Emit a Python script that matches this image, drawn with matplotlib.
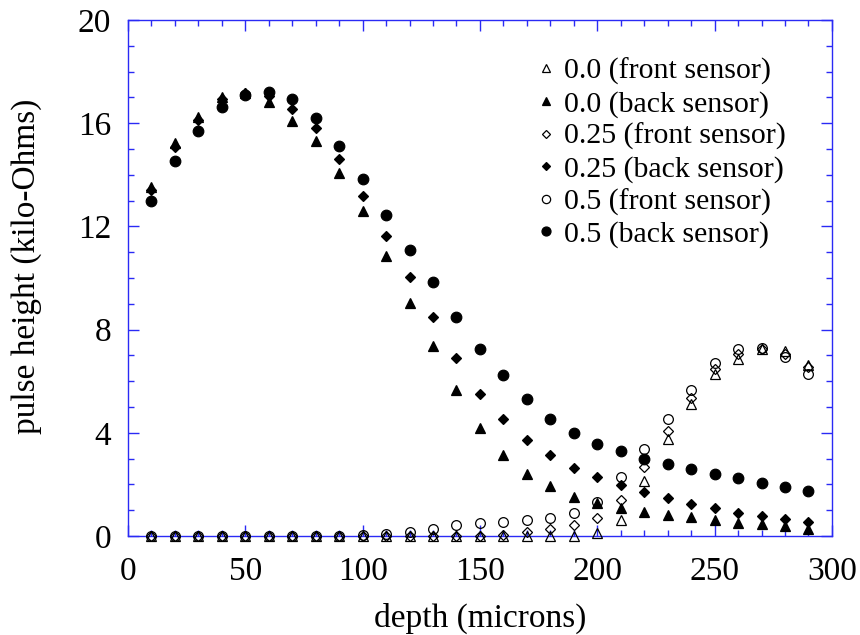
import matplotlib
matplotlib.use("Agg")
import matplotlib.pyplot as plt
from matplotlib.ticker import MultipleLocator

plt.rcParams['font.family'] = ['Liberation Serif', 'DejaVu Serif']

# depth in microns
depth = [10, 20, 30, 40, 50, 60, 70, 80, 90, 100,
         110, 120, 130, 140, 150, 160, 170, 180, 190, 200,
         210, 220, 230, 240, 250, 260, 270, 280, 290]

# pulse height (kilo-Ohms)
front_00 = [0, 0, 0, 0, 0, 0, 0, 0, 0, 0,
            0, 0, 0, 0, 0, 0, 0, 0, 0, 0.1,
            0.62, 2.15, 3.75, 5.13, 6.27, 6.87, 7.23, 7.16, 6.61]
back_00 = [13.54, 15.22, 16.25, 17.03, 17.18, 16.81, 16.10, 15.32, 14.06, 12.61,
           10.85, 9.05, 7.37, 5.65, 4.17, 3.14, 2.41, 1.92, 1.53, 1.27,
           1.08, 0.92, 0.82, 0.72, 0.63, 0.52, 0.46, 0.37, 0.27]
front_025 = [0, 0, 0, 0, 0, 0, 0, 0, 0, 0,
             0, 0, 0, 0, 0, 0.04, 0.14, 0.27, 0.43, 0.69,
             1.39, 2.68, 4.07, 5.35, 6.48, 7.04, 7.25, 7.06, 6.55]
back_025 = [13.41, 15.06, 16.12, 16.93, 17.16, 17.05, 16.54, 15.80, 14.60, 13.19,
            11.64, 10.02, 8.48, 6.91, 5.52, 4.52, 3.71, 3.14, 2.65, 2.29,
            1.97, 1.71, 1.46, 1.24, 1.07, 0.91, 0.78, 0.67, 0.54]
front_05 = [0, 0, 0, 0, 0, 0, 0, 0, 0, 0.03,
            0.08, 0.15, 0.27, 0.43, 0.52, 0.54, 0.62, 0.68, 0.88, 1.30,
            2.27, 3.39, 4.55, 5.65, 6.72, 7.25, 7.27, 6.94, 6.27]
back_05 = [12.98, 14.53, 15.70, 16.64, 17.09, 17.22, 16.93, 16.21, 15.12, 13.85,
           12.44, 11.09, 9.84, 8.48, 7.25, 6.25, 5.30, 4.55, 4.00, 3.58,
           3.29, 2.99, 2.78, 2.59, 2.41, 2.26, 2.06, 1.89, 1.73]

labels = ["0.0 (front sensor)", "0.0 (back sensor)",
          "0.25 (front sensor)", "0.25 (back sensor)",
          "0.5 (front sensor)", "0.5 (back sensor)"]

blue = '#2a2af5'

fig = plt.figure(figsize=(8.6, 6.35), dpi=100)
ax = fig.add_axes([0.1488, 0.1559, 0.8186, 0.8126])

series = [(front_00, '^', False, 7.2), (back_00, '^', True, 7.2),
          (front_025, 'D', False, 4.8), (back_025, 'D', True, 4.8),
          (front_05, 'o', False, 7.0), (back_05, 'o', True, 7.6)]
for (vals, mk, filled, ms), lab in zip(series, labels):
    ax.plot(depth, vals, linestyle='none', marker=mk, markersize=ms,
            markerfacecolor='black' if filled else 'none',
            markeredgecolor='black', markeredgewidth=0.9,
            label=lab, clip_on=False, zorder=3)

ax.set_xlim(0, 300)
ax.set_ylim(0, 20)
ax.xaxis.set_major_locator(MultipleLocator(50))
ax.xaxis.set_minor_locator(MultipleLocator(10))
ax.yaxis.set_major_locator(MultipleLocator(4))
ax.yaxis.set_minor_locator(MultipleLocator(1))

for sp in ax.spines.values():
    sp.set_color(blue)
    sp.set_linewidth(1.0)
ax.tick_params(which='both', direction='in', top=True, right=True, color=blue)
ax.tick_params(which='major', length=8, width=1, labelsize=24)
ax.tick_params(which='minor', length=4, width=1)
ax.tick_params(axis='x', which='major', pad=15)
ax.tick_params(axis='y', which='major', pad=12)

ax.set_xlabel("depth (microns)", fontsize=24, labelpad=11)
ax.set_ylabel("pulse height (kilo-Ohms)", fontsize=24)
ax.yaxis.set_label_coords(-0.122, 0.523)

# legend placed by its top-left corner (figure fraction)
ax.legend(loc='upper left', bbox_to_anchor=(0.625, 0.909),
          bbox_transform=fig.transFigure, frameon=False,
          fontsize=21.5, markerscale=0.85, handlelength=0.6,
          handletextpad=0.3, labelspacing=0.18,
          borderpad=0, borderaxespad=0)

fig.savefig("out.png", dpi=100)
